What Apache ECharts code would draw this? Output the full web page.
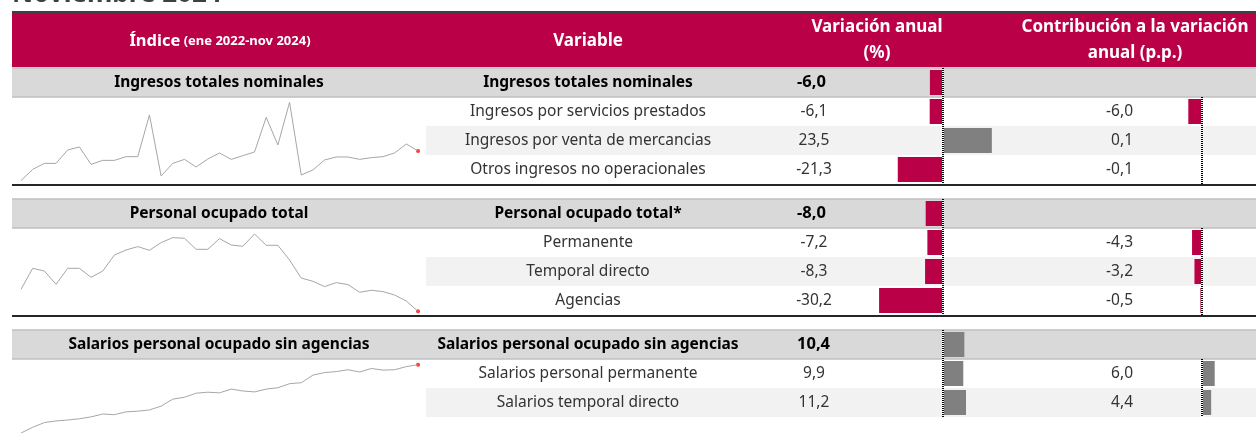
<!DOCTYPE html>
<html>
<head>
<meta charset="utf-8">
<script src="https://cdn.jsdelivr.net/npm/echarts@6/dist/echarts.min.js"></script>
<style>
  html, body { margin: 0; padding: 0; background: #fff; }
  #main { width: 1256px; height: 433px; }
</style>
</head>
<body>
<div id="main"></div>
<script>
// meses ene 2022 - nov 2024
const mesesCorto = ['ene', 'feb', 'mar', 'abr', 'may', 'jun', 'jul', 'ago', 'sep', 'oct', 'nov', 'dic']
const meses = []
for (let a = 2022; a <= 2024; a++) {
  mesesCorto.forEach(m => {
    if (meses.length < 35) meses.push(m + ' ' + a)
  })
}

// indices (lineas de tendencia)
const idxIngresos = [100.0, 111.3, 117.3, 117.3, 130.7, 133.7, 116.3, 120.3, 120.3, 124.0, 124.0, 165.7,
  104.7, 117.3, 121.3, 113.7, 121.7, 127.7, 121.3, 125.0, 128.7, 163.3, 135.7, 178.3,
  105.7, 110.7, 120.7, 123.7, 123.7, 121.3, 123.0, 124.0, 127.7, 136.7, 129.7]
const idxPersonal = [122.0, 143.0, 140.3, 127.0, 143.0, 143.0, 134.0, 140.3, 156.3, 161.3, 164.7, 161.0,
  168.7, 173.7, 173.0, 162.0, 162.0, 172.7, 166.3, 165.0, 177.3, 166.0, 166.0, 151.3,
  133.3, 130.0, 124.7, 128.7, 126.7, 119.0, 121.0, 119.7, 116.3, 110.3, 100.0]
const idxSalarios = [100.0, 106.0, 111.0, 112.7, 113.7, 115.0, 117.0, 120.0, 119.3, 122.3, 123.0, 124.3,
  128.3, 135.7, 137.7, 142.0, 143.0, 142.3, 146.3, 144.3, 143.3, 146.3, 147.7, 152.0,
  153.0, 161.0, 163.7, 164.7, 166.7, 164.3, 168.0, 166.3, 166.7, 170.0, 172.0]

// titulos columna indice
const titulosIndice = ['Ingresos totales nominales', 'Personal ocupado total', 'Salarios personal ocupado sin agencias']

// variables y valores
const varIngresos = ['Ingresos totales nominales', 'Ingresos por servicios prestados', 'Ingresos por venta de mercancias', 'Otros ingresos no operacionales']
const anualIngresos = [-6.0, -6.1, 23.5, -21.3]
const contribIngresos = [-6.0, 0.1, -0.1]

const varPersonal = ['Personal ocupado total*', 'Permanente', 'Temporal directo', 'Agencias']
const anualPersonal = [-8.0, -7.2, -8.3, -30.2]
const contribPersonal = [-4.3, -3.2, -0.5]

const varSalarios = ['Salarios personal ocupado sin agencias', 'Salarios personal permanente', 'Salarios temporal directo']
const anualSalarios = [10.4, 9.9, 11.2]
const contribSalarios = [6.0, 4.4]

const indices = [idxIngresos, idxPersonal, idxSalarios]
const variables = [varIngresos, varPersonal, varSalarios]
const anuales = [anualIngresos, anualPersonal, anualSalarios]
const contribs = [contribIngresos, contribPersonal, contribSalarios]

// layout
const FONT = '"Noto Sans", sans-serif'
const CRIMSON = '#BA0047'
const GRIS_BAR = '#808080'
const groupTop = [68, 199, 330]
const rowH = 29
const sparkBox = [[102.3, 180.7], [234, 311.3], [364.7, 436.7]]

function fmt (v) {
  return v.toFixed(1).replace('.', ',')
}

const chart = echarts.init(document.getElementById('main'))

const graphic = []
// titulo (cortado arriba)
graphic.push({
  type: 'text', x: 12, y: -5,
  style: { text: 'Noviembre 2024', font: 'bold 26px ' + FONT, fill: '#404040', verticalAlign: 'middle' }
})
// encabezado
graphic.push({ type: 'rect', shape: { x: 12, y: 13, width: 1244, height: 54 }, style: { fill: CRIMSON } })
graphic.push({ type: 'line', shape: { x1: 12, y1: 12, x2: 1256, y2: 12 }, style: { stroke: '#404040', lineWidth: 2 } })
graphic.push({
  type: 'text', x: 220, y: 41,
  style: {
    text: '{a|Índice} {b|(ene 2022-nov 2024)}', align: 'center', verticalAlign: 'middle', fill: '#fff',
    rich: {
      a: { font: 'bold 16.5px ' + FONT, fill: '#fff' },
      b: { font: 'bold 13px ' + FONT, fill: '#fff' }
    }
  }
})
graphic.push({
  type: 'text', x: 588, y: 41,
  style: { text: 'Variable', font: 'bold 17px ' + FONT, fill: '#fff', align: 'center', verticalAlign: 'middle' }
})
graphic.push({
  type: 'text', x: 877, y: 40,
  style: { text: 'Variación anual\n(%)', font: 'bold 17px ' + FONT, fill: '#fff', align: 'center', verticalAlign: 'middle', lineHeight: 26 }
})
graphic.push({
  type: 'text', x: 1135, y: 40,
  style: { text: 'Contribución a la variación\nanual (p.p.)', font: 'bold 17px ' + FONT, fill: '#fff', align: 'center', verticalAlign: 'middle', lineHeight: 26 }
})

variables.forEach((names, g) => {
  const top = groupTop[g]
  const n = names.length
  // fila titulo del grupo
  graphic.push({ type: 'rect', shape: { x: 12, y: top, width: 1244, height: rowH }, style: { fill: '#D9D9D9' } })
  graphic.push({ type: 'line', shape: { x1: 12, y1: top, x2: 1256, y2: top }, style: { stroke: '#BFBFBF', lineWidth: 1.5 } })
  graphic.push({ type: 'line', shape: { x1: 12, y1: top + rowH, x2: 1256, y2: top + rowH }, style: { stroke: '#BFBFBF', lineWidth: 1.5 } })
  // fila alterna
  graphic.push({ type: 'rect', shape: { x: 426, y: top + 2 * rowH, width: 830, height: rowH }, style: { fill: '#F2F2F2' } })

  const cy = top + rowH / 2
  graphic.push({ type: 'text', x: 219, y: cy, style: { text: titulosIndice[g], font: 'bold 15.5px ' + FONT, fill: '#000', align: 'center', verticalAlign: 'middle' } })
  graphic.push({ type: 'text', x: 588, y: cy, style: { text: names[0], font: 'bold 15.5px ' + FONT, fill: '#000', align: 'center', verticalAlign: 'middle' } })
  graphic.push({ type: 'text', x: 797, y: cy, style: { text: fmt(anuales[g][0]), font: 'bold 16.5px ' + FONT, fill: '#000', align: 'left', verticalAlign: 'middle' } })

  for (let i = 1; i < n; i++) {
    const y = top + i * rowH + rowH / 2
    graphic.push({ type: 'text', x: 588, y: y, style: { text: names[i], font: '15.5px ' + FONT, fill: '#333', align: 'center', verticalAlign: 'middle' } })
    graphic.push({ type: 'text', x: 814, y: y, style: { text: fmt(anuales[g][i]), font: '15.5px ' + FONT, fill: '#333', align: 'center', verticalAlign: 'middle' } })
    graphic.push({ type: 'text', x: 1133, y: y, style: { text: fmt(contribs[g][i - 1]), font: '15.5px ' + FONT, fill: '#333', align: 'right', verticalAlign: 'middle' } })
  }
  if (g < 2) {
    const yb = top + n * rowH + 1
    graphic.push({ type: 'line', shape: { x1: 12, y1: yb, x2: 1256, y2: yb }, style: { stroke: '#262626', lineWidth: 2 } })
  }
})

const grid = []
const xAxis = []
const yAxis = []
const series = []

const zeroLine = {
  silent: true,
  symbol: ['none', 'none'],
  label: { show: false },
  data: [
    { xAxis: 0, lineStyle: { color: '#fff', type: 'solid', width: 2 } },
    { xAxis: 0, lineStyle: { color: '#000', type: [1, 1], width: 2 } }
  ]
}
const barColor = p => (p.value < 0 ? CRIMSON : GRIS_BAR)

// lineas de tendencia
indices.forEach((arr, g) => {
  const k = grid.length
  grid.push({ left: 21, width: 397, top: sparkBox[g][0], height: sparkBox[g][1] - sparkBox[g][0] })
  xAxis.push({ type: 'category', gridIndex: k, data: meses, boundaryGap: false, show: false })
  yAxis.push({ type: 'value', gridIndex: k, min: 'dataMin', max: 'dataMax', show: false })
  series.push({
    type: 'line', xAxisIndex: k, yAxisIndex: k, data: arr, showSymbol: false, silent: true,
    lineStyle: { color: '#A6A6A6', width: 1 }
  })
  series.push({
    type: 'scatter', xAxisIndex: k, yAxisIndex: k, silent: true, symbolSize: 4,
    itemStyle: { color: '#FF0000' },
    data: arr.map((v, i) => (i === arr.length - 1 ? v : '-'))
  })
})

// variacion anual
anuales.forEach((arr, g) => {
  const k = grid.length
  grid.push({ left: 858.5, width: 168, top: groupTop[g], height: arr.length * rowH })
  xAxis.push({ type: 'value', gridIndex: k, min: -40, max: 40, show: false })
  yAxis.push({ type: 'category', gridIndex: k, data: variables[g], inverse: true, show: false })
  series.push({
    type: 'bar', xAxisIndex: k, yAxisIndex: k, data: arr, barWidth: 25, silent: true,
    itemStyle: { color: barColor }, markLine: zeroLine
  })
})

// contribucion
contribs.forEach((arr, g) => {
  const k = grid.length
  grid.push({ left: 1179.5, width: 44, top: groupTop[g] + rowH, height: arr.length * rowH })
  xAxis.push({ type: 'value', gridIndex: k, min: -10, max: 10, show: false })
  yAxis.push({ type: 'category', gridIndex: k, data: variables[g].slice(1), inverse: true, show: false })
  series.push({
    type: 'bar', xAxisIndex: k, yAxisIndex: k, data: arr, barWidth: 25, silent: true,
    itemStyle: { color: barColor }, markLine: zeroLine
  })
})

chart.setOption({
  animation: false,
  textStyle: { fontFamily: FONT },
  graphic: graphic,
  grid: grid,
  xAxis: xAxis,
  yAxis: yAxis,
  series: series
})

window.addEventListener('resize', function () {
  chart.resize()
})
</script>
</body>
</html>
